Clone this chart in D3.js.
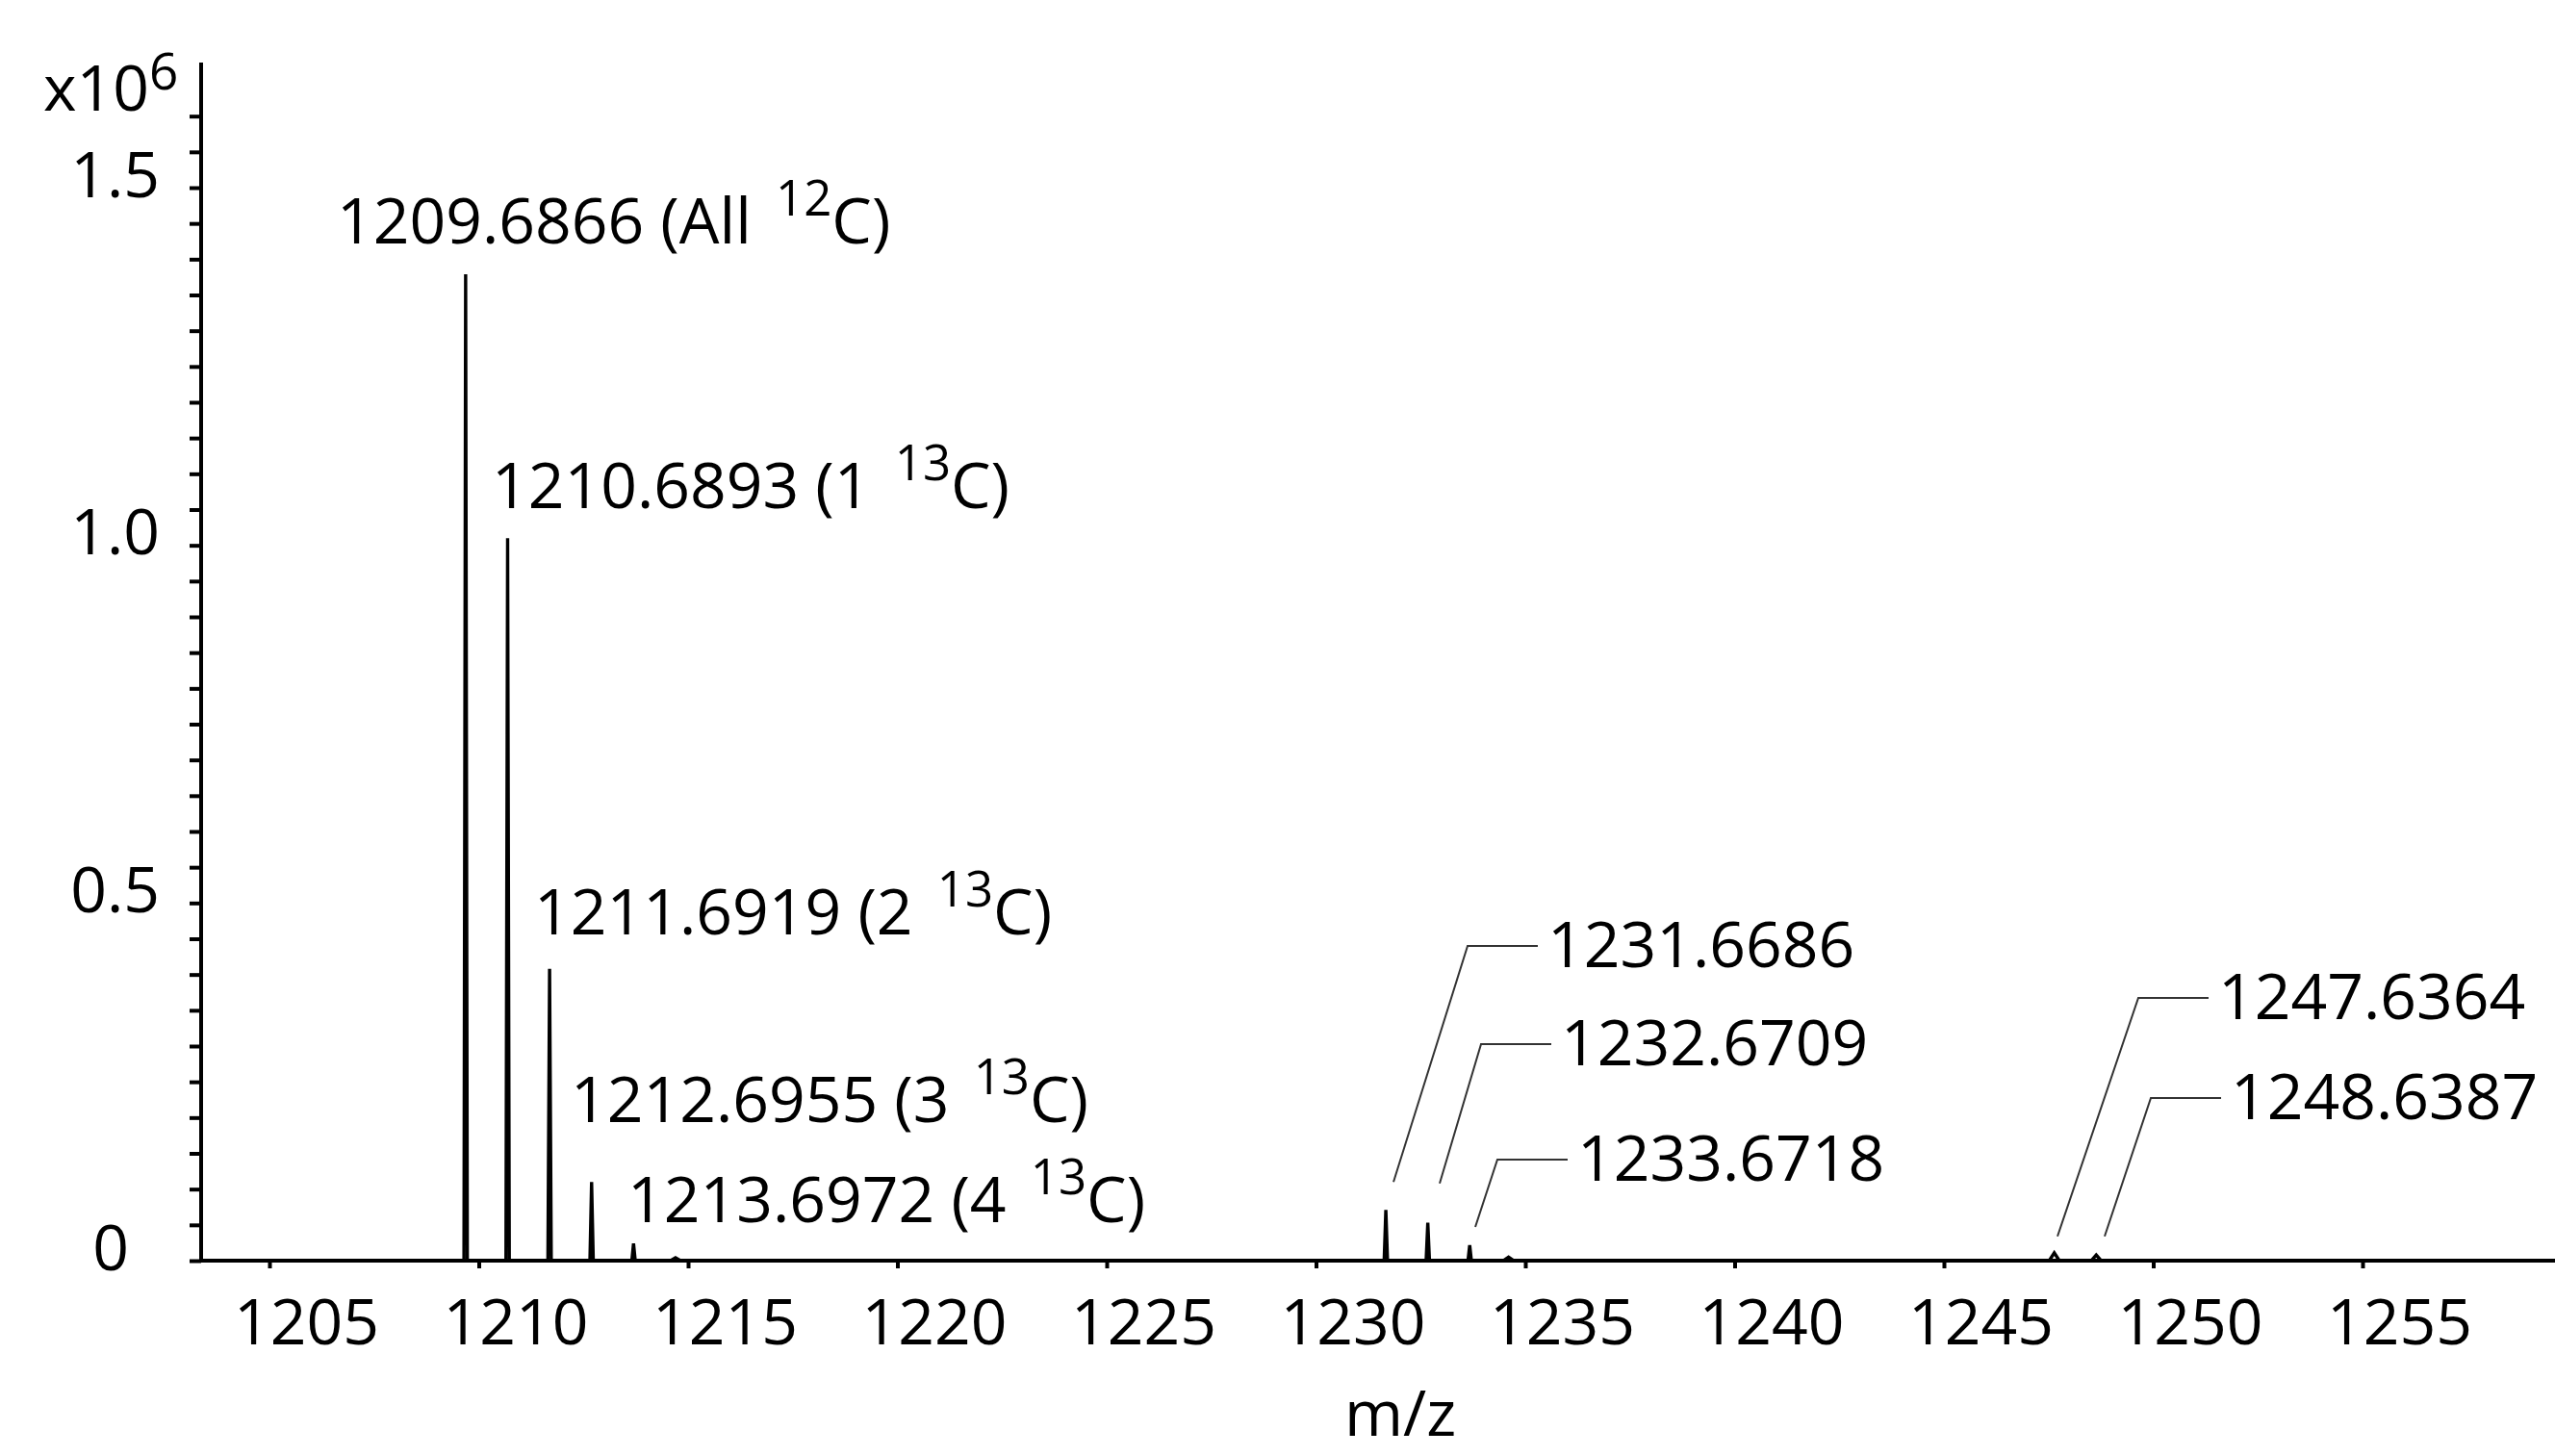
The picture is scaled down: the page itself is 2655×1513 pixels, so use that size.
<!DOCTYPE html>
<html>
<head>
<meta charset="utf-8">
<script src="https://cdn.jsdelivr.net/npm/d3@7"></script>
<style>
  html, body { margin: 0; padding: 0; background: #fff; }
  svg { display: block; font-family: "Open Sans", "Noto Sans", sans-serif; }
  text { fill: #000; }
</style>
</head>
<body>
<svg id="chart" width="2655" height="1513"></svg>
<script>
// Isotope clusters of the ion, intensity in units of 10^6 counts
const peakMz        = [1209.6866, 1210.6893, 1211.6919, 1212.6955, 1213.6972, 1214.70,
                       1231.6686, 1232.6709, 1233.6718, 1234.60,
                       1247.6364, 1248.6387];
const peakIntensity = [1.379, 1.010, 0.408, 0.110, 0.024, 0.004,
                       0.071, 0.053, 0.0215, 0.005,
                       0.011, 0.008];

// Axis ticks
const xTickValues = [1205, 1210, 1215, 1220, 1225, 1230, 1235, 1240, 1245, 1250, 1255];
const yTickValues = d3.range(0, 32 + 1).map(i => i * 0.05);
const yTickLabels = {0: "0", 0.5: "0.5", 1: "1.0", 1.5: "1.5"};

// Peak annotations: text pieces and anchor (m/z, intensity) of each label
const labelMain = ["1209.6866 (All ", "1210.6893 (1 ", "1211.6919 (2 ", "1212.6955 (3 ", "1213.6972 (4 ",
                   "1231.6686", "1232.6709", "1233.6718", "1247.6364", "1248.6387"];
const labelSup  = ["12", "13", "13", "13", "13", "", "", "", "", ""];
const labelTail = ["C)", "C)", "C)", "C)", "C)", "", "", "", "", ""];
const labelAtMz  = [1206.609, 1210.310, 1211.322, 1212.195, 1213.552,
                    1235.529, 1235.851, 1236.241, 1251.552, 1251.851];
const labelAtInt = [1.4220, 1.0521, 0.4561, 0.1937, 0.0538,
                    0.4103, 0.2731, 0.1117, 0.3377, 0.1978];
// Leader lines start near the peak they point to (null = no leader)
const leaderFromMz  = [null, null, null, null, null, 1231.851, 1232.954, 1233.805, 1247.713, 1248.839];
const leaderFromInt = [null, null, null, null, null, 0.110, 0.108, 0.047, 0.034, 0.034];

const svg = d3.select("#chart");
const W = 2655, H = 1513;
const FS = 66;

const x = d3.scaleLinear().domain([1205, 1255]).range([280, 2455]);
const y = d3.scaleLinear().domain([0, 1.5]).range([1310, 195]);
const x0 = 209;               // y-axis position
const y0 = y(0);              // baseline

// ---- spectrum trace: narrow spikes rising from the baseline
const profile = [];
profile.push([x.invert(x0), 0]);
peakMz.forEach((m, i) => {
  const h = peakIntensity[i];
  const w = h < 0.015 ? 0.12 : 0.04;
  profile.push([m - w, 0], [m, h], [m + w, 0]);
});
profile.push([x.invert(W), 0]);

svg.append("path")
  .datum(profile)
  .attr("fill", "none")
  .attr("stroke", "#000")
  .attr("stroke-width", 3.4)
  .attr("stroke-linejoin", "miter")
  .attr("d", d3.line().x(d => x(d[0])).y(d => y(d[1])));

// ---- y axis
const yAxis = svg.append("g")
  .attr("transform", `translate(${x0},0)`)
  .call(d3.axisLeft(y).tickValues(yTickValues).tickSize(12).tickPadding(31)
        .tickFormat(d => yTickLabels[+d.toFixed(2)] || ""));
yAxis.select(".domain").remove();
yAxis.selectAll(".tick line").attr("stroke", "#000").attr("stroke-width", 4);
yAxis.selectAll(".tick text")
  .attr("font-size", FS).attr("font-family", "Open Sans")
  .attr("fill", "#000")
  .attr("dy", "0.14em")
  .attr("dx", d => d === 0 ? -32 : 0);
svg.append("line")
  .attr("x1", x0).attr("x2", x0)
  .attr("y1", y(1.675)).attr("y2", y0 + 2)
  .attr("stroke", "#000").attr("stroke-width", 4);

// ---- x axis
const xAxis = svg.append("g")
  .attr("transform", `translate(0,${y0})`)
  .call(d3.axisBottom(x).tickValues(xTickValues).tickSize(8).tickPadding(32).tickFormat(d3.format("d")));
xAxis.select(".domain").remove();
xAxis.selectAll(".tick line").attr("stroke", "#000").attr("stroke-width", 4);
xAxis.selectAll(".tick text")
  .attr("font-size", FS).attr("font-family", "Open Sans")
  .attr("fill", "#000")
  .attr("dx", 38);
svg.append("line")
  .attr("x1", x0 - 2).attr("x2", W)
  .attr("y1", y0).attr("y2", y0)
  .attr("stroke", "#000").attr("stroke-width", 4);

// ---- axis titles
svg.append("text")
  .attr("x", 1455).attr("y", 1492)
  .attr("text-anchor", "middle")
  .attr("font-size", FS)
  .text("m/z");

const mult = svg.append("text").attr("x", 45).attr("y", 115).attr("font-size", FS);
mult.append("tspan").text("x10");
mult.append("tspan").attr("font-size", 53).attr("dy", -22).text("6");

// ---- peak annotations
labelMain.forEach((t, i) => {
  const lx = x(labelAtMz[i]), ly = y(labelAtInt[i]);
  const txt = svg.append("text")
    .attr("x", lx).attr("y", ly)
    .attr("font-size", FS)
    .attr("xml:space", "preserve")
    .style("white-space", "pre");
  txt.append("tspan").text(t);
  if (labelSup[i]) {
    txt.append("tspan").attr("font-size", 51).attr("dx", 8).attr("dy", -29).text(labelSup[i]);
    txt.append("tspan").attr("font-size", FS).attr("dy", 29).text(labelTail[i]);
  }
  if (leaderFromMz[i] != null) {
    const sx = x(leaderFromMz[i]), sy = y(leaderFromInt[i]);
    const ey = ly - 22, ex = lx - 10;
    svg.append("polyline")
      .attr("points", [[sx, sy], [ex - 73, ey], [ex, ey]].map(p => p.join(",")).join(" "))
      .attr("fill", "none")
      .attr("stroke", "#333")
      .attr("stroke-width", 2);
  }
});
</script>
</body>
</html>
